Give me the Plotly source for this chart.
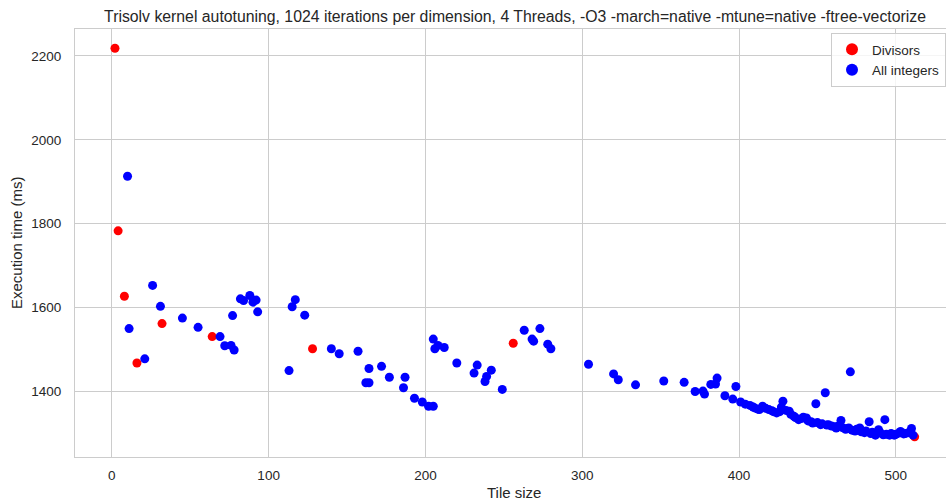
import plotly.graph_objects as go

div_x = [2, 4, 8, 16, 32, 64, 128, 256, 512]
div_y = [2218, 1783, 1627, 1468, 1562, 1531, 1502, 1515, 1292]

all_x = [10, 11, 21, 26, 31, 45, 55, 69, 72, 76, 77, 78, 82, 84, 88, 90, 92, 93,
         113, 115, 117, 123, 140, 145, 157, 162, 164, 164, 172, 177, 186, 187,
         193, 198, 202, 205, 205, 206, 208, 212, 220, 231, 233, 238, 239, 242,
         249, 263, 268, 269, 273, 278, 280, 304, 320, 323, 334, 352, 365, 372,
         377, 378, 382, 385, 386, 391, 396, 398, 401,
         404, 407, 409, 410, 412, 413, 415, 417, 419, 421, 422, 424, 426, 427,
         428, 430, 432, 433, 435, 436, 438, 440, 441, 443, 444, 446, 447, 449,
         450, 452, 453, 455, 456, 457, 459, 461, 462, 463, 465, 466, 468, 469,
         470, 471, 472, 474, 475, 477, 478, 480, 481, 483, 484, 485, 487, 488,
         489, 490, 492, 493, 494, 496, 497, 499, 500, 502, 503, 505, 506, 508,
         510, 511]
all_y = [1913, 1550, 1478, 1653, 1603, 1575, 1553, 1531, 1509, 1510, 1581, 1499,
         1621, 1617, 1629, 1613, 1618, 1590,
         1450, 1602, 1619, 1582, 1502, 1490, 1496, 1421, 1421, 1455, 1460, 1434,
         1409, 1434, 1384, 1375, 1365, 1365, 1525, 1502, 1510, 1505, 1468, 1444,
         1463, 1424, 1436, 1451, 1405, 1546, 1525, 1520, 1550, 1513, 1502, 1465,
         1442, 1428, 1416, 1425, 1422, 1400, 1401, 1394, 1417, 1418, 1432, 1390,
         1382, 1412, 1375,
         1370, 1367, 1363, 1361, 1358, 1357, 1365, 1360, 1357, 1354, 1352, 1349,
         1352, 1363, 1377, 1355, 1353, 1346, 1341, 1338, 1333, 1336, 1339, 1337,
         1330, 1328, 1325, 1371, 1326, 1321, 1323, 1397, 1320, 1321, 1318, 1316,
         1313, 1317, 1331, 1314, 1310, 1312, 1313, 1447, 1308, 1306, 1310, 1313,
         1304, 1302, 1306, 1328, 1300, 1303, 1296, 1300, 1309, 1302, 1297, 1333,
         1298, 1296, 1300, 1296, 1298, 1301, 1305, 1299, 1300, 1302, 1312, 1296]

title_text = ("Trisolv kernel autotuning, 1024 iterations per dimension, 4 Threads, "
              "-O3 -march=native -mtune=native -ftree-vectorize")
x_label = "Tile size"
y_label = "Execution time (ms)"
x_ticks = [0, 100, 200, 300, 400, 500]
y_ticks = [1400, 1600, 1800, 2000, 2200]

FONT = "Liberation Sans, Arial, sans-serif"
TXT = "#262626"
GRID = "#cccccc"
L, T, W, H = 75, 29, 946, 504
PW, PH = W - L, 457 - T

fig = go.Figure()
fig.add_trace(go.Scatter(x=div_x, y=div_y, mode="markers", name="Divisors",
                         marker=dict(color="#ff0000", size=9, line=dict(width=0))))
fig.add_trace(go.Scatter(x=all_x, y=all_y, mode="markers", name="All integers",
                         marker=dict(color="#0000ff", size=9, line=dict(width=0))))

fig.update_layout(
    width=W, height=H,
    margin=dict(l=L, r=0, t=T, b=H - 457, pad=0),
    paper_bgcolor="white", plot_bgcolor="white",
    font=dict(family=FONT, color=TXT, size=13.5),
    title=dict(text=title_text, x=(515 - L) / PW, xref="paper", xanchor="center",
               y=1 - 16 / H, yref="container", yanchor="middle",
               font=dict(size=15.8, color=TXT, family=FONT)),
    showlegend=True,
    legend=dict(x=1, xanchor="right", y=1 - 4 / PH, yanchor="top",
                bgcolor="rgba(255,255,255,0.8)", bordercolor=GRID, borderwidth=1,
                font=dict(size=13.5, color=TXT, family=FONT),
                itemsizing="constant", tracegroupgap=0),
    annotations=[
        dict(text=x_label, xref="paper", yref="paper", x=(514 - L) / PW,
             y=-(493 - 457) / PH, xanchor="center", yanchor="middle",
             showarrow=False, font=dict(size=15, color=TXT, family=FONT)),
        dict(text=y_label, xref="paper", yref="paper", x=-(L - 16) / PW,
             y=0.5, xanchor="center", yanchor="middle", textangle=-90,
             showarrow=False, font=dict(size=15, color=TXT, family=FONT)),
    ],
)
fig.update_xaxes(range=[-23.5, 532], tickvals=x_ticks, showgrid=True, gridcolor=GRID,
                 gridwidth=1, zeroline=False, showline=True, linecolor=GRID, linewidth=1,
                 mirror=True, ticks="", automargin=False, ticklabelstandoff=6,
                 tickfont=dict(size=13.5, color=TXT, family=FONT))
fig.update_yaxes(range=[1244, 2264], tickvals=y_ticks, showgrid=True, gridcolor=GRID,
                 gridwidth=1, zeroline=False, showline=True, linecolor=GRID, linewidth=1,
                 mirror=True, ticks="", automargin=False, ticklabelstandoff=10,
                 tickfont=dict(size=13.5, color=TXT, family=FONT))

fig.write_html("out.html", config={"displayModeBar": False},
               post_script="document.body.style.margin='0';")
